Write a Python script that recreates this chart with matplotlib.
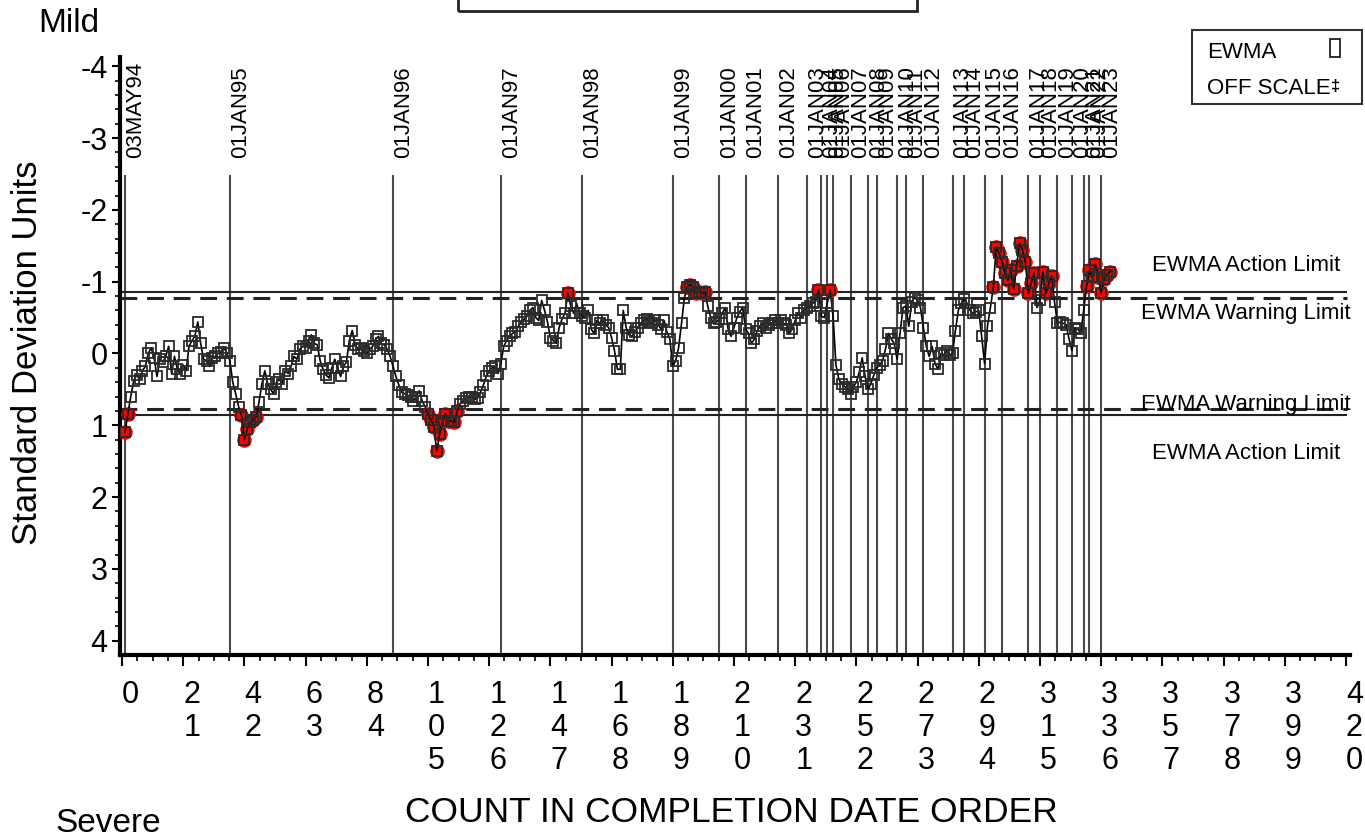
import matplotlib
matplotlib.use("Agg")
import matplotlib.pyplot as plt
from matplotlib.patches import Rectangle
import numpy as np

plt.rcParams['font.family'] = ['Liberation Sans', 'DejaVu Sans']
plt.rcParams['axes.unicode_minus'] = False

# EWMA values in standard deviation units, one per completed item (count 1..339)
ewma_1 = [1.10, 0.84, 0.60, 0.38, 0.30, 0.36, 0.24, 0.18, 0.00, -0.08,
          0.06, 0.32, 0.08, 0.12, 0.04, -0.10, 0.28, 0.04, 0.22, 0.28,
          0.16, 0.24, -0.10, -0.18, -0.24, -0.44, -0.14, 0.08, 0.10, 0.18,
          0.06, 0.04, 0.00, -0.02, -0.08, 0.00, 0.10, 0.40, 0.56, 0.74,
          0.86, 1.20, 1.05, 0.96, 0.92, 0.88, 0.68, 0.42, 0.24, 0.42,
          0.50, 0.56, 0.40, 0.36, 0.42, 0.24, 0.28, 0.18, 0.04, 0.08,
          -0.06, -0.10, -0.08, -0.18, -0.26, -0.14, -0.12, 0.10, 0.22, 0.30,
          0.34, 0.20, 0.08, 0.20, 0.32, 0.18, 0.12, -0.18, -0.32, -0.12,
          -0.06, -0.08, -0.04, 0.00, -0.06, -0.10, -0.20, -0.24, -0.14, -0.12,
          -0.06, 0.04, 0.18, 0.32, 0.44, 0.54, 0.56, 0.58, 0.60, 0.66]
ewma_2 = [0.60, 0.52, 0.66, 0.74, 0.84, 0.92, 1.02, 1.36, 1.12, 0.94,
          0.84, 0.94, 0.94, 0.96, 0.80, 0.70, 0.66, 0.62, 0.60, 0.60,
          0.64, 0.62, 0.54, 0.44, 0.32, 0.24, 0.20, 0.18, 0.28, 0.14,
          -0.10, -0.18, -0.24, -0.28, -0.30, -0.38, -0.44, -0.48, -0.52, -0.60,
          -0.64, -0.50, -0.46, -0.74, -0.60, -0.44, -0.22, -0.18, -0.14, -0.36,
          -0.48, -0.56, -0.84, -0.66, -0.56, -0.70, -0.56, -0.52, -0.50, -0.60,
          -0.34, -0.28, -0.46, -0.42, -0.46, -0.40, -0.36, -0.22, -0.04, 0.22,
          0.22, -0.60, -0.36, -0.26, -0.24, -0.30, -0.36, -0.42, -0.46, -0.48,
          -0.44, -0.42, -0.46, -0.40, -0.34, -0.46, -0.30, -0.20, 0.18, 0.10,
          -0.08, -0.42, -0.78, -0.92, -0.96, -0.92, -0.84, -0.86, -0.84, -0.86]
ewma_3 = [-0.66, -0.50, -0.42, -0.44, -0.48, -0.56, -0.64, -0.34, -0.24, -0.36,
          -0.50, -0.58, -0.64, -0.34, -0.28, -0.14, -0.20, -0.32, -0.38, -0.42,
          -0.36, -0.40, -0.42, -0.46, -0.42, -0.46, -0.42, -0.40, -0.28, -0.34,
          -0.46, -0.56, -0.50, -0.60, -0.64, -0.66, -0.70, -0.72, -0.88, -0.52,
          -0.50, -0.70, -0.88, -0.52, 0.16, 0.36, 0.42, 0.46, 0.50, 0.56,
          0.46, 0.40, 0.26, 0.06, 0.32, 0.50, 0.42, 0.30, 0.20, 0.16,
          0.10, -0.06, -0.28, -0.20, -0.14, 0.08, -0.28, -0.64, -0.66, -0.38,
          -0.72, -0.78, -0.74, -0.64, -0.36, -0.10, 0.04, -0.10, 0.14, 0.22,
          0.00, 0.02, -0.04, 0.02, 0.00, -0.32, -0.60, -0.70, -0.76, -0.70,
          -0.60, -0.56, -0.58, -0.60, -0.24, 0.14, -0.38, -0.64, -0.92, -1.48]
ewma_4 = [-1.40, -1.28, -1.12, -1.02, -1.16, -0.90, -1.22, -1.54, -1.44, -1.28,
          -0.84, -0.98, -1.12, -0.64, -0.74, -1.14, -0.84, -0.98, -1.08, -0.72,
          -0.42, -0.44, -0.42, -0.40, -0.20, -0.04, -0.36, -0.34, -0.28, -0.60,
          -0.94, -1.16, -1.06, -1.24, -1.06, -0.84, -1.04, -1.10, -1.14]

ACTION = 0.855
WARNING = 0.78

# first count after each date boundary
date_counts = [1, 37, 93, 130, 158, 189, 205, 214, 225, 235, 240, 242, 244, 250,
               256, 259, 266, 269, 275, 285, 289, 296, 302, 311, 315, 321, 326,
               330, 332, 336]
date_labels = ['03MAY94', '01JAN95', '01JAN96', '01JAN97', '01JAN98', '01JAN99',
               '01JAN00', '01JAN01', '01JAN02', '01JAN03', '01JAN04', '01JAN05',
               '01JAN06', '01JAN07', '01JAN08', '01JAN09', '01JAN10', '01JAN11',
               '01JAN12', '01JAN13', '01JAN14', '01JAN15', '01JAN16', '01JAN17',
               '01JAN18', '01JAN19', '01JAN20', '01JAN21', '01JAN22', '01JAN23']

x_ticks = list(range(0, 421, 21))
y_ticks = [-4, -3, -2, -1, 0, 1, 2, 3, 4]

ewma = np.array(ewma_1 + ewma_2 + ewma_3 + ewma_4)
count = np.arange(1, len(ewma) + 1)
flag = np.abs(ewma) > WARNING

fig = plt.figure(figsize=(13.65, 8.36), dpi=100)
ax = fig.add_axes([0.0879, 0.2165, 0.9011, 0.7153])

ax.set_xlim(-0.7, 421.4)
ax.set_ylim(4.2, -4.13)

# date boundaries
ax.vlines(date_counts, -2.48, 4.2, color='#4a4a4a', lw=1.5, zorder=1)
for xc, lab in zip(date_counts, date_labels):
    ax.text(xc, -2.72, lab, rotation=90, ha='left', va='bottom',
            fontsize=16, color='black')

# limits
for sgn in (-1, 1):
    ax.hlines(sgn * ACTION, -0.7, 420.5, color='#222222', lw=1.5, zorder=2)
    ax.hlines(sgn * WARNING, -0.7, 420.5, color='#222222', lw=2.2,
              linestyles=(0, (5.5, 3.2)), zorder=2)

lx = 385.7
ax.text(lx, -1.23, 'EWMA Action Limit', ha='center', va='center', fontsize=16)
ax.text(lx, -0.56, 'EWMA Warning Limit', ha='center', va='center', fontsize=16)
ax.text(lx, 0.71, 'EWMA Warning Limit', ha='center', va='center', fontsize=16)
ax.text(lx, 1.39, 'EWMA Action Limit', ha='center', va='center', fontsize=16)

# EWMA series
ax.plot(count[flag], ewma[flag], 'o', color='red', ms=9.5, mec='red', zorder=3)
ax.plot(count, ewma, '-', color='black', lw=1.2, zorder=4,
        marker='s', ms=6.8, mfc='none', mec='#2a2a2a', mew=1.3)

# axes styling
for side in ('top', 'right'):
    ax.spines[side].set_visible(False)
for side in ('left', 'bottom'):
    ax.spines[side].set_linewidth(3)

ax.set_xticks(x_ticks)
ax.set_xticklabels(['\n'.join(str(v)) for v in x_ticks])
ax.set_xticks(np.arange(0, 421, 5.25), minor=True)
ax.set_yticks(y_ticks)
ax.set_yticklabels([str(v) for v in y_ticks])
ax.set_yticks(np.arange(-4, 4.01, 0.2), minor=True)

ax.tick_params(axis='x', which='major', length=8, width=1.5, labelsize=22, pad=10)
ax.tick_params(axis='x', which='minor', length=4, width=1.2)
ax.tick_params(axis='y', which='major', length=6, width=1.5, labelsize=22, pad=3)
ax.tick_params(axis='y', which='minor', length=3.5, width=1.2)
for lab in ax.get_xticklabels():
    lab.set_horizontalalignment('left')
    lab.set_linespacing(1.12)

W, H = 1365.0, 836.0

def fx(px):
    return px / W

def fy(py):
    return 1 - py / H

fig.text(fx(28), fy(353), 'Standard Deviation Units', rotation=90,
         ha='center', va='center', fontsize=25)
fig.text(fx(731), fy(812), 'COUNT IN COMPLETION DATE ORDER',
         ha='center', va='center', fontsize=25.5)
fig.text(fx(38), fy(24), 'Mild', ha='left', va='center', fontsize=24)
fig.text(fx(55), fy(823), 'Severe', ha='left', va='center', fontsize=24)

# title box (top part falls outside the page)
fig.add_artist(Rectangle((fx(458), fy(11)), fx(917) - fx(458), 0.05,
                         transform=fig.transFigure, fill=False,
                         ec='#222222', lw=2))

# legend
fig.add_artist(Rectangle((fx(1192), fy(104)), fx(1362) - fx(1192), fy(30) - fy(104),
                         transform=fig.transFigure, fill=False,
                         ec='#333333', lw=1.5))
fig.text(fx(1207), fy(52), 'EWMA', ha='left', va='center', fontsize=16)
fig.text(fx(1207), fy(89), 'OFF SCALE', ha='left', va='center', fontsize=16)
fig.add_artist(Rectangle((fx(1330), fy(57)), fx(1340) - fx(1330), fy(39) - fy(57),
                         transform=fig.transFigure, fill=False,
                         ec='#222222', lw=1.3))
fig.text(fx(1336), fy(86), '\u2021', ha='center', va='center', fontsize=12,
         fontweight='bold')

fig.savefig('out.png', dpi=100, facecolor='white')
